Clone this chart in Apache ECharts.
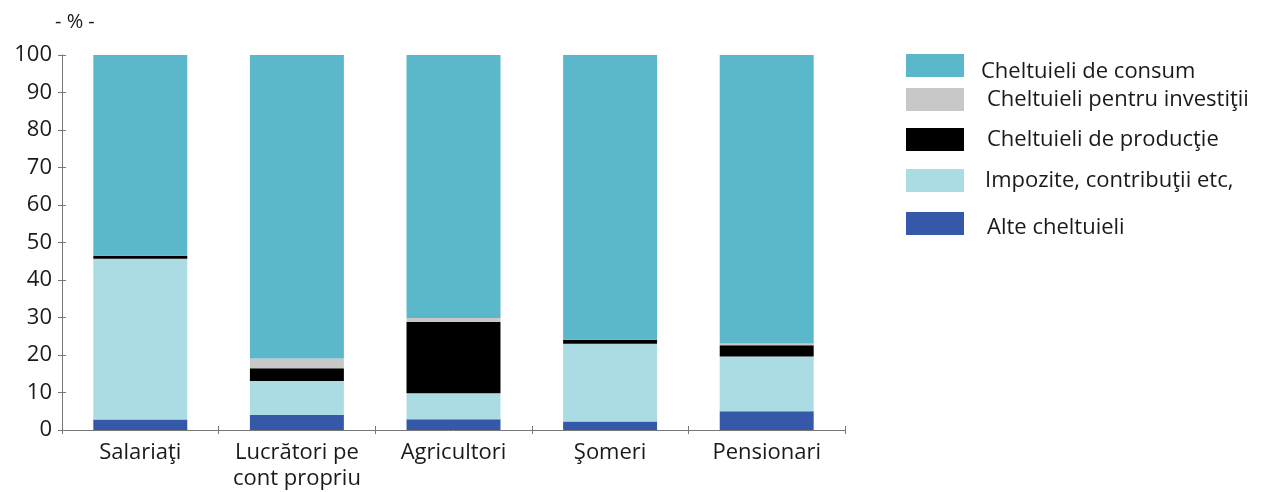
<!DOCTYPE html>
<html>
<head>
<meta charset="utf-8">
<script src="https://cdn.jsdelivr.net/npm/echarts@6/dist/echarts.min.js"></script>
<style>html,body{margin:0;padding:0;background:#fff;}#c{width:1272px;height:492px;}</style>
</head>
<body>
<div id="c"></div>
<script>
const categories = ['Salariaţi', 'Lucrători pe\ncont propriu', 'Agricultori', 'Şomeri', 'Pensionari'];
const seriesNames = ['Cheltuieli de consum', 'Cheltuieli pentru investiţii', 'Cheltuieli de producţie', 'Impozite, contribuţii etc,', 'Alte cheltuieli'];
const alteCheltuieli = [2.8, 4.0, 2.9, 2.3, 5.0];
const impozite = [42.9, 9.1, 6.9, 20.7, 14.6];
const productie = [0.8, 3.4, 19.0, 1.1, 3.0];
const investitii = [0.0, 2.6, 1.1, 0.0, 0.5];
const consum = [53.5, 80.9, 70.1, 75.9, 76.9];
const yTicks = [0, 10, 20, 30, 40, 50, 60, 70, 80, 90, 100];

const colors = {
  consum: '#5bb8cb',
  investitii: '#c8c8c8',
  productie: '#000000',
  impozite: '#abdce3',
  alte: '#3558a8'
};
const FONT = 'Open Sans';
const chart = echarts.init(document.getElementById('c'), null, {renderer: 'canvas'});

const stackOrder = [
  {name: seriesNames[4], data: alteCheltuieli, color: colors.alte},
  {name: seriesNames[3], data: impozite, color: colors.impozite},
  {name: seriesNames[2], data: productie, color: colors.productie},
  {name: seriesNames[1], data: investitii, color: colors.investitii},
  {name: seriesNames[0], data: consum, color: colors.consum}
];

const legendTops = [54, 88, 128, 169, 212];
const textLeft = [12, 18, 18, 16, 18];
const textDown = [12, 0, 0, 0, 8];

const option = {
  animation: false,
  textStyle: {fontFamily: FONT},
  grid: {left: 62, right: 427, top: 55, bottom: 61, containLabel: false},
  legend: seriesNames.map((n, i) => ({
    data: [n],
    left: 906,
    top: legendTops[i],
    itemWidth: 58,
    itemHeight: 23,
    itemGap: 0,
    padding: 0,
    icon: 'rect',
    selectedMode: false,
    formatter: name => '{t|' + name + '}',
    textStyle: {
      fontFamily: FONT, fontSize: 22, color: '#1a1a1a',
      rich: {t: {fontFamily: FONT, fontSize: 22, color: '#1a1a1a', padding: [textDown[i], 0, 0, textLeft[i]]}}
    }
  })),
  xAxis: [{
    type: 'category',
    data: categories,
    position: 'bottom',
    axisLine: {lineStyle: {color: '#777', width: 1}},
    axisTick: {show: true, inside: false, length: 4, lineStyle: {color: '#777'}},
    axisLabel: {fontFamily: FONT, fontSize: 22, color: '#1a1a1a', margin: 10, lineHeight: 26, interval: 0}
  }, {
    type: 'category',
    data: categories,
    position: 'bottom',
    axisLine: {show: false},
    axisTick: {show: true, inside: true, length: 4, lineStyle: {color: '#777'}},
    axisLabel: {show: false}
  }],
  yAxis: [{
    type: 'value',
    min: 0, max: 100, interval: 10,
    position: 'left',
    splitLine: {show: false},
    axisLine: {show: true, lineStyle: {color: '#777', width: 1}},
    axisTick: {show: true, inside: false, length: 4, lineStyle: {color: '#777'}},
    axisLabel: {fontFamily: FONT, fontSize: 22, color: '#1a1a1a', margin: 10,
      formatter: v => yTicks.includes(v) ? String(v) : ''}
  }, {
    type: 'value',
    min: 0, max: 100, interval: 10,
    position: 'left',
    splitLine: {show: false},
    axisLine: {show: false},
    axisTick: {show: true, inside: true, length: 4, lineStyle: {color: '#777'}},
    axisLabel: {show: false}
  }],
  graphic: [{
    type: 'text',
    left: 55, top: 12,
    style: {text: '- % -', fontFamily: FONT, fontSize: 20, fill: '#1a1a1a'}
  }],
  series: stackOrder.map(s => ({
    name: s.name,
    type: 'bar',
    stack: 'total',
    xAxisIndex: 0,
    yAxisIndex: 0,
    barWidth: '60%',
    data: s.data,
    itemStyle: {color: s.color},
    emphasis: {disabled: true}
  }))
};
chart.setOption(option);
</script>
</body>
</html>
